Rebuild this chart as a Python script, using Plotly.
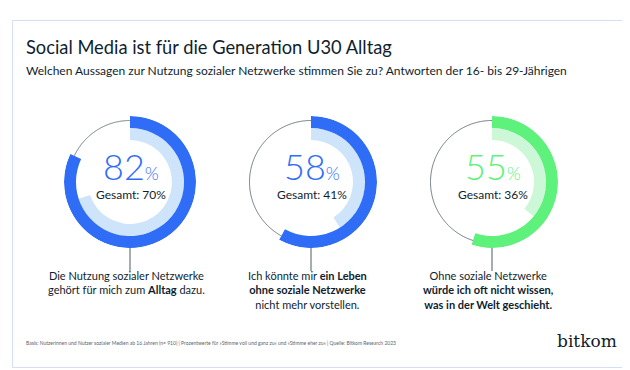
import numpy as np
import plotly.graph_objects as go

# ---- data ----
values_u30 = [82, 58, 55]          # 16-29 year olds (%)
values_total = [70, 41, 36]        # Gesamt (%)
dark_colors = ["#2f6df6", "#2f6df6", "#5ef27c"]
light_colors = ["#cde4fb", "#cde4fb", "#ccf8d7"]
labels = [
    "Die Nutzung sozialer Netzwerke<br>gehört für mich zum <b>Alltag</b> dazu.",
    "Ich könnte mir <b>ein Leben</b><br><b>ohne soziale Netzwerke</b><br>nicht mehr vorstellen.",
    "Ohne soziale Netzwerke<br><b>würde ich oft nicht wissen,</b><br><b>was in der Welt geschieht.</b>",
]
title = "Social Media ist für die Generation U30 Alltag"
subtitle = "Welchen Aussagen zur Nutzung sozialer Netzwerke stimmen Sie zu? Antworten der 16- bis 29-Jährigen"
footer = ("Basis: Nutzerinnen und Nutzer sozialer Medien ab 16 Jahren (n= 910) | Prozentwerte für »Stimme voll und ganz zu« "
          "und »Stimme eher zu« | Quelle: Bitkom Research 2023")

W, H = 630, 370
FONT = "Lato"
NAVY = "#0f1e2e"
centers_x = [122, 303, 484]
cy = 174
R = 66

def px(x):
    return x / W

def py(y):
    return 1 - y / H

fig = go.Figure()
layout_extra = {}
for i, (u, g) in enumerate(zip(values_u30, values_total)):
    pname = "polar" if i == 0 else f"polar{i+1}"
    sub = pname
    cx = centers_x[i]
    # light arc (Gesamt)
    fig.add_trace(go.Barpolar(
        r=[12], base=[42], theta=[g * 3.6 / 2], width=[g * 3.6],
        marker=dict(color=light_colors[i], line=dict(width=0)),
        showlegend=False, subplot=sub, hoverinfo="skip"))
    # dark arc (U30)
    fig.add_trace(go.Barpolar(
        r=[12], base=[54], theta=[u * 3.6 / 2], width=[u * 3.6],
        marker=dict(color=dark_colors[i], line=dict(width=0)),
        showlegend=False, subplot=sub, hoverinfo="skip"))
    # thin remainder circle
    th = np.linspace(u * 3.6, 360, 200)
    fig.add_trace(go.Scatterpolar(
        r=[61.5] * len(th), theta=th, mode="lines",
        line=dict(color="#4f5b66", width=0.8), hoverinfo="skip",
        showlegend=False, subplot=sub))
    layout_extra[pname] = dict(
        domain=dict(x=[px(cx - R), px(cx + R)], y=[py(cy + R), py(cy - R)]),
        bgcolor="rgba(0,0,0,0)",
        radialaxis=dict(range=[0, R], visible=False),
        angularaxis=dict(visible=False, rotation=90, direction="clockwise"),
        hole=0,
    )

fig.update_layout(**layout_extra)

annotations = []
shapes = []
# border
shapes.append(dict(type="rect", xref="paper", yref="paper",
                   x0=px(4.5), x1=px(621.5), y0=py(359.5), y1=py(12.5),
                   line=dict(color="#d4def6", width=1), fillcolor="rgba(0,0,0,0)"))
annotations.append(dict(text=title, x=px(16), y=py(39), xref="paper", yref="paper",
                        xanchor="left", yanchor="middle", showarrow=False,
                        font=dict(family=FONT, size=18.3, color=NAVY)))
annotations.append(dict(text=subtitle, x=px(16), y=py(62), xref="paper", yref="paper",
                        xanchor="left", yanchor="middle", showarrow=False,
                        font=dict(family=FONT, size=12, color=NAVY)))
annotations.append(dict(text=footer, x=px(16), y=py(335), xref="paper", yref="paper",
                        xanchor="left", yanchor="middle", showarrow=False,
                        font=dict(family=FONT, size=5, color="#5a6570")))
annotations.append(dict(text="bitkom", x=px(611), y=py(333), xref="paper", yref="paper",
                        xanchor="right", yanchor="middle", showarrow=False,
                        font=dict(family="DejaVu Serif", size=17, color="#111c2a")))

for i, (u, g) in enumerate(zip(values_u30, values_total)):
    cx = centers_x[i]
    annotations.append(dict(
        text=f"{u}<span style='font-size:18px'>%</span>",
        x=px(cx + 1), y=py(158), xref="paper", yref="paper",
        xanchor="center", yanchor="middle", showarrow=False,
        font=dict(family=FONT, size=36, color=dark_colors[i], weight=300)))
    annotations.append(dict(
        text=f"Gesamt: {g}%", x=px(cx + 1), y=py(187), xref="paper", yref="paper",
        xanchor="center", yanchor="middle", showarrow=False,
        font=dict(family=FONT, size=12, color=NAVY)))
    annotations.append(dict(
        text=labels[i], x=px(cx - 4), y=py(259), xref="paper", yref="paper",
        xanchor="center", yanchor="top", showarrow=False, align="center",
        font=dict(family=FONT, size=11, color=NAVY)))
    shapes.append(dict(type="line", xref="paper", yref="paper",
                       x0=px(cx), x1=px(cx), y0=py(240), y1=py(263),
                       line=dict(color="#4f5b66", width=1)))

fig.update_layout(
    width=W, height=H,
    margin=dict(l=0, r=0, t=0, b=0),
    paper_bgcolor="white", plot_bgcolor="white",
    annotations=annotations, shapes=shapes,
    showlegend=False,
)

fig.write_html("out.html")
